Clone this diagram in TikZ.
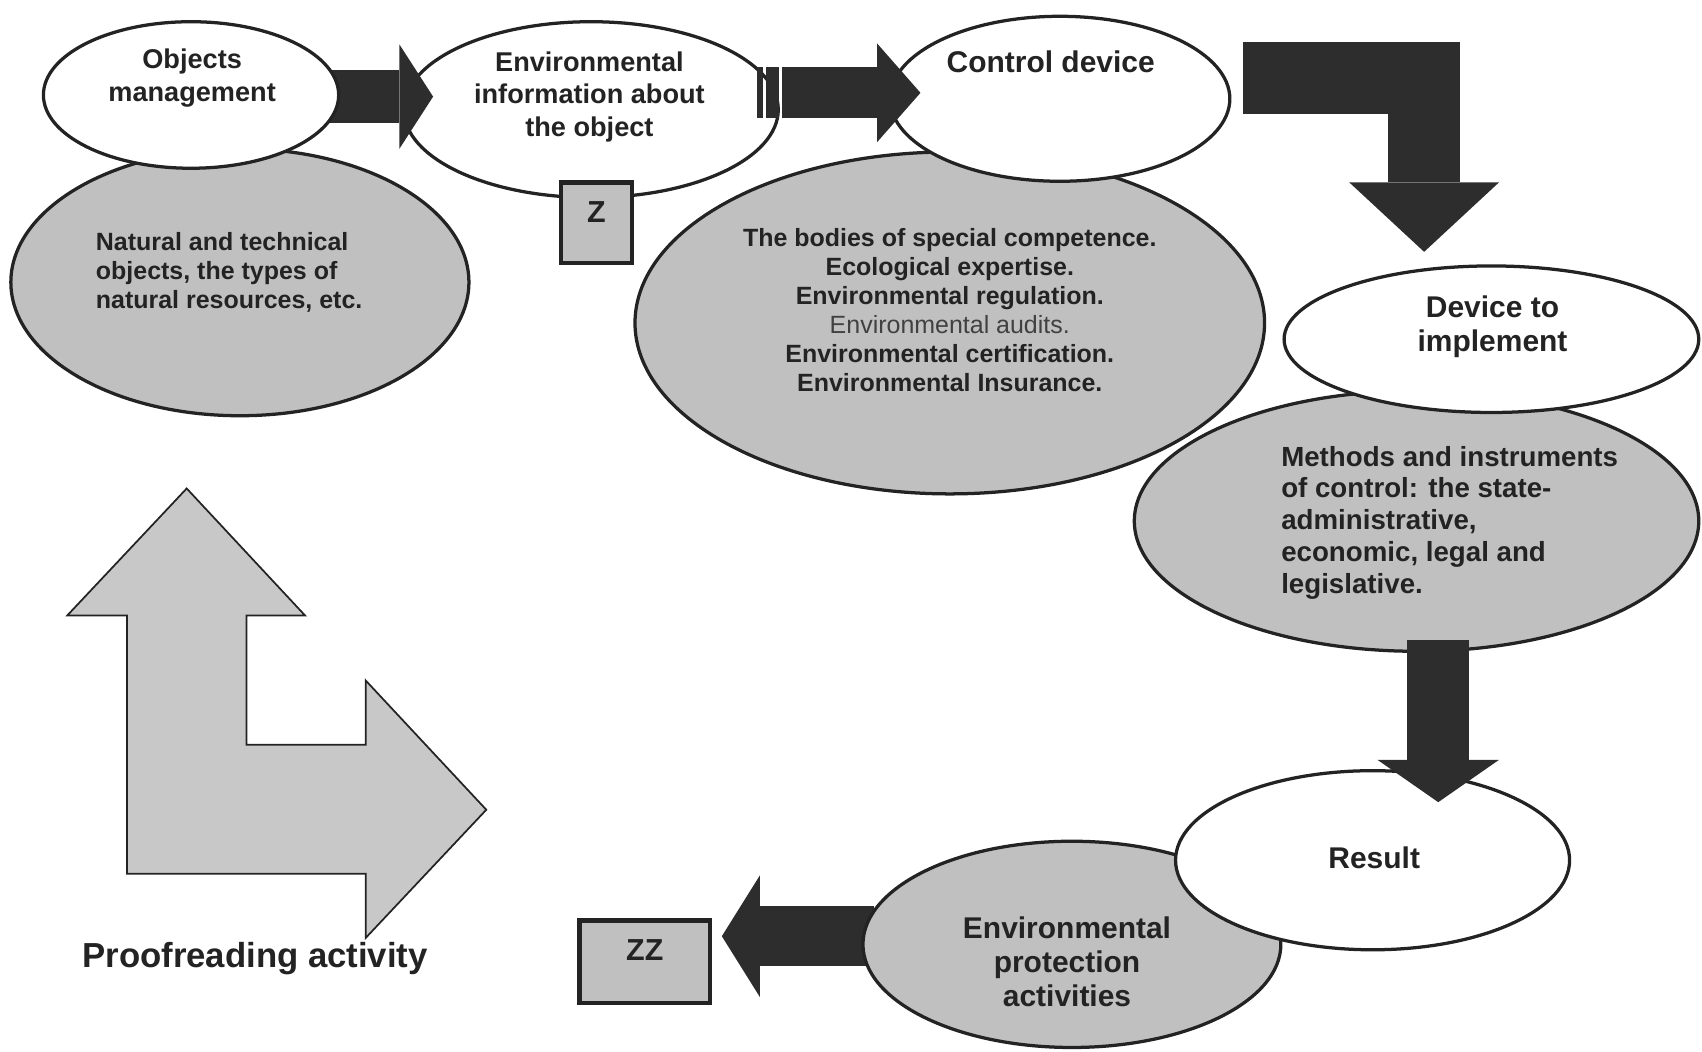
\documentclass[tikz,border=0pt]{standalone}
\usepackage{fontspec}
\setmainfont{Liberation Sans}
\usetikzlibrary{shapes.geometric,arrows.meta,calc}
\pgfdeclarelayer{bg}
\pgfdeclarelayer{fg}
\pgfsetlayers{bg,main,fg}
\definecolor{lc}{RGB}{35,35,35}
\definecolor{gfill}{RGB}{192,192,192}
\definecolor{ac}{RGB}{45,45,45}
\definecolor{lfill}{RGB}{200,200,200}
\definecolor{audit}{RGB}{65,65,65}
\newcommand\fszA{\fontsize{12.5pt}{15pt}\selectfont\bfseries}
\newcommand\fszB{\fontsize{11.5pt}{13.3pt}\selectfont\bfseries}
\newcommand\fszD{\fontsize{13.8pt}{16pt}\selectfont\bfseries}
\newcommand\fszG{\fontsize{12.75pt}{14.65pt}\selectfont\bfseries}
\newcommand\fszI{\fontsize{13.8pt}{15.5pt}\selectfont\bfseries}
\newcommand\fszZ{\fontsize{14pt}{16pt}\selectfont\bfseries}
\newcommand\fszP{\fontsize{16pt}{19pt}\selectfont\bfseries}
\tikzset{
  wel/.style={ellipse, draw=lc, line width=1.5pt, fill=white, inner sep=0pt, outer sep=0pt},
  gel/.style={ellipse, draw=lc, line width=1.5pt, fill=gfill, inner sep=0pt, outer sep=0pt},
  gbox/.style={rectangle, draw=lc, line width=2pt, fill=gfill, inner sep=0pt, outer sep=0pt},
  blockarrow/.style={draw=ac, line cap=butt, line join=miter},
  txt/.style={inner sep=0pt, align=center, text=lc},
}
\begin{document}
\begin{tikzpicture}[x=0.5pt, y=-0.5pt]
\useasboundingbox (0,0) rectangle (1568,969);

% big L-shaped arrow
\draw[draw=lc, line width=0.8pt, fill=lfill]
  (117,567) -- (62,567) -- (172,450) -- (281,567) -- (227,567) -- (227,686)
  -- (337,686) -- (337,627) -- (448,746) -- (337,864) -- (337,805) -- (117,805) -- cycle;

% ellipses
\node[gel, minimum width=211pt, minimum height=123pt] (B) at (221,260) {};
\begin{pgfonlayer}{fg}
\node[wel, minimum width=136pt, minimum height=67.5pt] (A) at (176,87.5) {};
\end{pgfonlayer}
\node[wel, minimum width=172.5pt, minimum height=81pt] (C) at (544.5,101) {};
\node[gel, minimum width=290pt, minimum height=157.5pt] (E) at (875,297.5) {};
\node[wel, minimum width=156.5pt, minimum height=76pt] (D) at (976.5,91) {};
\node[gel, minimum width=260pt, minimum height=120pt] (G) at (1305,480) {};
\node[wel, minimum width=191pt, minimum height=67.5pt] (F) at (1374,312.5) {};
\node[gel, minimum width=192.5pt, minimum height=95pt] (I) at (987.5,870) {};
\begin{pgfonlayer}{fg}
\node[wel, minimum width=181.5pt, minimum height=82.5pt] (H) at (1264.5,792.5) {};
\end{pgfonlayer}

% boxes
\node[gbox, minimum width=32.5pt, minimum height=37pt] (z) at (549.5,205) {};
\node[gbox, minimum width=60pt, minimum height=38pt] (zz) at (594,886) {};

% arrow A -> C
\coordinate (a1) at ($(A.east)+(-20,1.5)$);
\draw[blockarrow, line width=24.5pt, -{Triangle[length=15.5pt,width=48pt,line width=0pt]}]
  (a1) -- ($(a1 -| C.west)+(27,0)$);

% striped arrow C -> D
\coordinate (c1) at ($(C.east)+(3,-15.5)$);
\fill[ac] ($(c1)+(-23,-23.5)$) rectangle ($(c1)+(-17,23.5)$);
\fill[ac] ($(c1)+(-14,-23.5)$) rectangle ($(c1)+(-2,23.5)$);
\draw[blockarrow, line width=23.5pt, -{Triangle[length=20pt,width=45.5pt,line width=0pt]}]
  (c1) -- ($(c1 -| D.west)+(28,0)$);

% bent arrow D -> F
\coordinate (d1) at ($(D.east)+(12,-19)$);
\draw[blockarrow, line width=33pt, -{Triangle[length=32pt,width=69pt,line width=0pt]}]
  (d1) -| ($(F.north)+(-62,-13)$);

% arrow I -> ZZ (behind I)
\begin{pgfonlayer}{bg}
\coordinate (i1) at ($(I.west)+(10,-7.5)$);
\draw[blockarrow, line width=27.5pt, -{Triangle[length=17.5pt,width=56pt,line width=0pt]}]
  (i1) -- ($(i1 -| zz.east)+(11,0)$);
\end{pgfonlayer}

% arrow G -> H (on top)
\begin{pgfonlayer}{fg}
\coordinate (g1) at ($(G.south)+(20,-10)$);
\draw[blockarrow, line width=28.5pt, -{Triangle[length=19.5pt,width=56pt,line width=0pt]}]
  (g1) -- ($(g1 |- H.north)+(0,29)$);
\end{pgfonlayer}

% texts
\begin{pgfonlayer}{fg}
\node[txt, font=\fszA] (tA) at (177,72) {Objects\\management};
\node[txt, font=\fszB, align=left, anchor=west] (tB) at (88,251)
  {Natural and technical\\objects, the types of\\natural resources, etc.};
\node[txt, font=\fszA] (tC) at (543,89) {Environmental\\information about\\the object};
\node[txt, font=\fszD] (tD) at (968,57) {Control device};
\node[txt, font=\fszB] (tE) at (875,285.5)
  {The bodies of special competence.\\Ecological expertise.\\Environmental regulation.\\{\mdseries\color{audit}Environmental audits.}\\Environmental certification.\\Environmental Insurance.};
\node[txt, font=\fszD] (tF) at (1375,301) {Device to\\implement};
\node[txt, font=\fszG, align=left, anchor=west] (tG) at (1180,481.5)
  {Methods and instruments\\of control: the state-\\administrative,\\economic, legal and\\legislative.};
\node[txt, font=\fszD] (tH) at (1266,790) {Result};
\node[txt, font=\fszI] (tI) at (983,886) {Environmental\\protection\\activities};
\node[txt, font=\fszZ] (tz) at ($(z.center)+(0,-10)$) {Z};
\node[txt, font=\fszZ] (tzz) at ($(zz.center)+(0,-11)$) {ZZ};
\node[txt, font=\fszP] (tP) at (235,883) {Proofreading activity};
\end{pgfonlayer}
\end{tikzpicture}
\end{document}
